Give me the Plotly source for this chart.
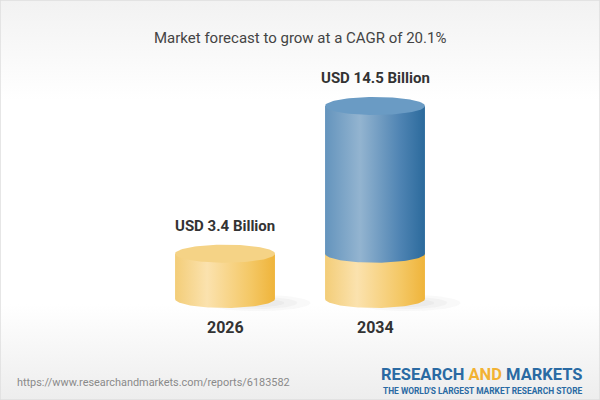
import base64
import numpy as np
import plotly.graph_objects as go

# ── Data ──────────────────────────────────────────────────────────────────────
years = ["2026", "2034"]
values = [3.4, 14.5]          # USD billion
base_value = 3.4              # yellow base shared by both cylinders
value_labels = ["USD 3.4 Billion", "USD 14.5 Billion"]
title_text = "Market forecast to grow at a CAGR of 20.1%"
source_text = "https://www.researchandmarkets.com/reports/6183582"

# ── Geometry / style ──────────────────────────────────────────────────────────
W, H = 600, 400
Y_MIN, Y_MAX = -7.59, 22.46
PX_PER_UNIT = H / (Y_MAX - Y_MIN)
RX = 0.333                     # cylinder radius in x units
RY = 9 / PX_PER_UNIT           # ellipse depth in y units

YELLOW_BODY = [[0, "#f3cd78"], [0.32, "#fbe2ae"], [0.75, "#f4c866"], [1, "#efb43a"]]
YELLOW_CAP = "#f5d386"
BLUE_BODY = [[0, "#6494bd"], [0.35, "#93b4d0"], [0.75, "#4f84b3"], [1, "#2b6a9c"]]
BLUE_CAP = "#6a9bc4"

t = np.linspace(0, np.pi, 60)


def lower_arc(cx, cy):
    # left -> right along the front (lower) half of the ellipse
    return cx - RX * np.cos(t), cy - RY * np.sin(t)


def body(cx, y0, y1):
    ax, ay = lower_arc(cx, y0)
    xs = np.concatenate([ax, [cx + RX, cx - RX, cx - RX]])
    ys = np.concatenate([ay, [y1, y1, y0]])
    return xs, ys


def cap(cx, cy):
    a = np.linspace(0, 2 * np.pi, 120)
    return cx + RX * np.cos(a), cy + RY * np.sin(a)


def poly(xs, ys, fill=None, gradient=None, opacity=1.0):
    kw = dict(x=xs, y=ys, mode="lines", line=dict(width=0), fill="toself",
              hoverinfo="skip", showlegend=False, opacity=opacity)
    if gradient:
        kw["fillgradient"] = dict(type="horizontal", colorscale=gradient)
        kw["fillcolor"] = gradient[1][1]
    else:
        kw["fillcolor"] = fill
    return go.Scatter(**kw)


fig = go.Figure()

for i, v in enumerate(values):
    # soft floor shadow
    a = np.linspace(0, 2 * np.pi, 80)
    for k, op in [(1.0, 0.06), (0.75, 0.07), (0.5, 0.08)]:
        fig.add_trace(poly(i + 0.22 + RX * 1.05 * k * np.cos(a),
                           -0.3 + RY * 0.9 * k * np.sin(a), fill="#9a9a9a", opacity=op))

    top_base = min(v, base_value)
    fig.add_trace(poly(*body(i, 0, top_base), gradient=YELLOW_BODY))
    if v > base_value:
        fig.add_trace(poly(*body(i, base_value, v), gradient=BLUE_BODY))
        fig.add_trace(poly(*cap(i, v), fill=BLUE_CAP))
    else:
        fig.add_trace(poly(*cap(i, v), fill=YELLOW_CAP))

    fig.add_annotation(x=i, y=v, yshift=RY * PX_PER_UNIT + 8, yanchor="bottom",
                       text=f"<b>{value_labels[i]}</b>", showarrow=False,
                       font=dict(family="Roboto", size=15, color="#333333"))
    fig.add_annotation(x=i, y=0, yshift=-29, yanchor="middle",
                       text=f"<b>{years[i]}</b>", showarrow=False,
                       font=dict(family="Roboto", size=16, color="#333333"))

# title, source and brand
fig.add_annotation(xref="paper", yref="paper", x=0.5, y=1 - 38 / H, yanchor="middle",
                   text=title_text, showarrow=False,
                   font=dict(family="Roboto", size=15, color="#444444"))
fig.add_annotation(xref="paper", yref="paper", x=15 / W, y=1 - 382 / H,
                   xanchor="left", yanchor="middle", text=source_text, showarrow=False,
                   font=dict(family="Roboto", size=10.9, color="#8a8a8a"))
fig.add_annotation(xref="paper", yref="paper", x=585 / W, y=1 - 374 / H,
                   xanchor="right", yanchor="middle", showarrow=False,
                   text="<b>RESEARCH <span style='color:#f2b233'>AND</span> MARKETS</b>",
                   font=dict(family="Roboto", size=16.5, color="#2a6aa3"))
fig.add_annotation(xref="paper", yref="paper", x=585 / W, y=1 - 391 / H,
                   xanchor="right", yanchor="middle", showarrow=False,
                   text="<b>THE WORLD'S LARGEST MARKET RESEARCH STORE</b>",
                   font=dict(family="Roboto", size=8.4, color="#2a6aa3"))

# background gradient + frame
svg = f"""<svg xmlns='http://www.w3.org/2000/svg' width='{W}' height='{H}'>
<defs><linearGradient id='g' x1='0' y1='0' x2='0' y2='1'>
<stop offset='0' stop-color='#f2f2f2'/><stop offset='0.25' stop-color='#ffffff'/>
<stop offset='0.76' stop-color='#ffffff'/><stop offset='1' stop-color='#ededed'/>
</linearGradient></defs><rect width='{W}' height='{H}' fill='url(#g)'/></svg>"""
fig.add_layout_image(source="data:image/svg+xml;base64," + base64.b64encode(svg.encode()).decode(),
                     xref="paper", yref="paper", x=0, y=1, sizex=1, sizey=1,
                     sizing="stretch", xanchor="left", yanchor="top", layer="below")
fig.add_shape(type="rect", xref="paper", yref="paper", x0=0, y0=0, x1=1, y1=1,
              line=dict(color="#dedede", width=1.5), fillcolor="rgba(0,0,0,0)")

fig.update_layout(
    width=W, height=H, margin=dict(l=0, r=0, t=0, b=0),
    paper_bgcolor="white", plot_bgcolor="rgba(0,0,0,0)",
    xaxis=dict(range=[-1.5, 2.5], visible=False, fixedrange=True),
    yaxis=dict(range=[Y_MIN, Y_MAX], visible=False, fixedrange=True),
)

# the page's default body margin would push the chart 8px off the window
fig.write_html("out.html", config={"displayModeBar": False},
               post_script="document.body.style.margin='0';document.body.style.overflow='hidden';")
